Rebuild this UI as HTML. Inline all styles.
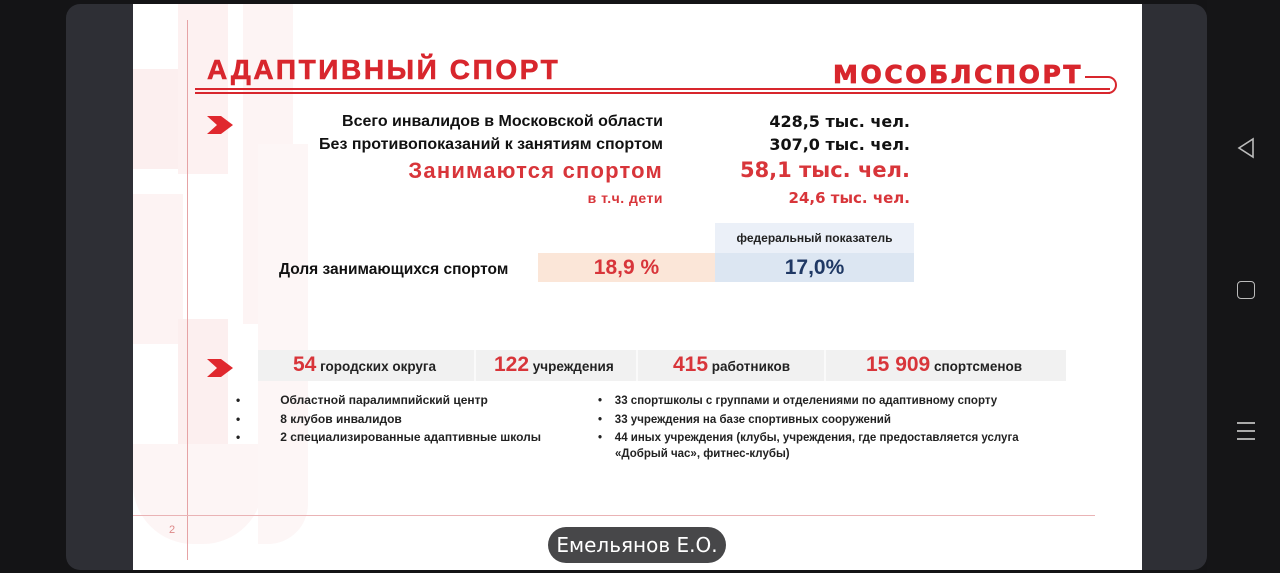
<!DOCTYPE html>
<html><head><meta charset="utf-8"><style>
*{margin:0;padding:0;box-sizing:border-box}
body{width:1280px;height:573px;background:#141416;position:relative;overflow:hidden;font-family:"Liberation Sans",Arial,sans-serif;font-weight:bold}
.a{position:absolute;white-space:nowrap}
.r{text-align:right}
.c{text-align:center}
</style></head><body>
<div class="a" style="left:66px;top:4px;width:1141px;height:566px;background:#2e2f35;border-radius:14px"></div>
<div class="a" style="left:1207px;top:0;width:73px;height:573px;background:#151517"></div>
<div class="a" style="left:133px;top:4px;width:1009px;height:566px;background:#fff;overflow:hidden">
  <div class="a" style="left:0;top:65px;width:50px;height:100px;background:#fcefef"></div>
  <div class="a" style="left:45px;top:0;width:50px;height:170px;background:#fdf1f1"></div>
  <div class="a" style="left:110px;top:0;width:50px;height:320px;background:#fdf4f4"></div>
  <div class="a" style="left:0;top:190px;width:50px;height:150px;background:#fdf3f3"></div>
  <div class="a" style="left:45px;top:315px;width:50px;height:130px;background:#fcefef"></div>
  <div class="a" style="left:0;top:440px;width:130px;height:100px;background:#fdf5f5;border-radius:0 0 60px 60px"></div>
  <div class="a" style="left:125px;top:140px;width:50px;height:400px;background:#fdf6f6;border-radius:0 0 40px 0"></div>
  <div class="a" style="left:54px;top:16px;width:1px;height:540px;background:#e6a3a5"></div>
  <div class="a" style="left:0;top:511px;width:962px;height:1px;background:#eab3b5"></div>
</div>
<div class="a" style="left:207px;top:54px;font-size:28px;color:#d8262d;letter-spacing:2.6px;-webkit-text-stroke:0.6px #d8262d">АДАПТИВНЫЙ СПОРТ</div>
<div class="a" style="left:195px;top:88px;width:915px;height:2px;background:#d8262d"></div>
<div class="a" style="left:195px;top:92px;width:915px;height:2px;background:#d8262d"></div>
<div class="a" style="left:833px;top:60px;font-size:25px;color:#d8262d;letter-spacing:2.6px;font-family:'DejaVu Sans',sans-serif;-webkit-text-stroke:0.8px #d8262d">МОСОБЛСПОРТ</div>
<div class="a" style="left:1085px;top:76px;width:32px;height:18px;border:2px solid #d8262d;border-left:none;border-radius:0 9px 9px 0"></div>
<svg class="a" style="left:207px;top:116px" width="26" height="18"><polygon points="0,0 14,0 26,9 14,18 0,18 10,9" fill="#e0282e"/></svg>
<svg class="a" style="left:207px;top:359px" width="26" height="18"><polygon points="0,0 14,0 26,9 14,18 0,18 10,9" fill="#e0282e"/></svg>
<div class="a r" style="right:617px;top:113px;font-size:16px;color:#111">Всего инвалидов в Московской области</div>
<div class="a r" style="right:617px;top:136px;font-size:16px;color:#111">Без противопоказаний к занятиям спортом</div>
<div class="a r" style="right:617px;top:158px;font-size:22px;color:#d8353a;letter-spacing:1.2px">Занимаются спортом</div>
<div class="a r" style="right:617px;top:190px;font-size:14px;color:#d8353a;letter-spacing:0.5px">в т.ч. дети</div>
<div class="a r" style="right:370px;top:112px;font-size:16px;color:#111;font-family:'DejaVu Sans',sans-serif">428,5 тыс. чел.</div>
<div class="a r" style="right:370px;top:135px;font-size:16px;color:#111;font-family:'DejaVu Sans',sans-serif">307,0 тыс. чел.</div>
<div class="a r" style="right:370px;top:158px;font-size:21px;color:#d8353a;font-family:'DejaVu Sans',sans-serif">58,1 тыс. чел.</div>
<div class="a r" style="right:370px;top:189px;font-size:15px;color:#d8353a;font-family:'DejaVu Sans',sans-serif">24,6 тыс. чел.</div>
<div class="a c" style="left:715px;top:223px;width:199px;height:30px;background:#ebf0f8;font-size:12px;line-height:30px;color:#222">федеральный показатель</div>
<div class="a c" style="left:538px;top:253px;width:177px;height:29px;background:#fbe6d8;font-size:21px;line-height:29px;color:#d8353a">18,9 %</div>
<div class="a c" style="left:715px;top:253px;width:199px;height:29px;background:#dce6f2;font-size:21px;line-height:29px;color:#1f3864">17,0%</div>
<div class="a" style="left:279px;top:261px;font-size:15.5px;color:#111">Доля занимающихся спортом</div>
<div class="a" style="left:258px;top:350px;width:808px;height:31px;background:#f1f1f1"></div>
<div class="a" style="left:474px;top:350px;width:2px;height:31px;background:#fafafa"></div>
<div class="a" style="left:636px;top:350px;width:2px;height:31px;background:#fafafa"></div>
<div class="a" style="left:824px;top:350px;width:2px;height:31px;background:#fafafa"></div>
<div class="a" style="left:293px;top:353px;font-size:13.5px;color:#222"><span style="font-size:21px;color:#d8353a">54</span> городских округа</div>
<div class="a" style="left:494px;top:353px;font-size:13.5px;color:#222"><span style="font-size:21px;color:#d8353a">122</span> учреждения</div>
<div class="a" style="left:673px;top:353px;font-size:13.5px;color:#222"><span style="font-size:21px;color:#d8353a">415</span> работников</div>
<div class="a" style="left:866px;top:353px;font-size:13.5px;color:#222"><span style="font-size:21px;color:#d8353a">15 909</span> спортсменов</div>
<div class="a" style="left:236px;top:391px;font-size:12px;color:#222;line-height:19px">
<div>•<span style="padding-left:40px">Областной паралимпийский центр</span></div>
<div>•<span style="padding-left:40px">8 клубов инвалидов</span></div>
<div style="margin-top:-1px">•<span style="padding-left:40px">2 специализированные адаптивные школы</span></div></div>
<div class="a" style="left:598px;top:392px;font-size:11.5px;color:#222;line-height:18.5px">
<div>•&nbsp;&nbsp;&nbsp;&nbsp;33 спортшколы с группами и отделениями по адаптивному спорту</div>
<div>•&nbsp;&nbsp;&nbsp;&nbsp;33 учреждения на базе спортивных сооружений</div>
<div>•&nbsp;&nbsp;&nbsp;&nbsp;44 иных учреждения (клубы, учреждения, где предоставляется услуга</div>
<div style="line-height:13px;padding-left:17px">«Добрый час», фитнес-клубы)</div></div>
<div class="a" style="left:169px;top:524px;font-size:11px;color:#d88;font-weight:normal">2</div>
<div class="a c" style="left:548px;top:527px;width:178px;height:36px;border-radius:18px;background:#474749;color:#fff;font-size:20px;line-height:36px;font-weight:normal;font-family:'DejaVu Sans',sans-serif">Емельянов Е.О.</div>
<svg class="a" style="left:1236px;top:137px" width="20" height="22"><polygon points="17,2 17,20 3,11" fill="none" stroke="#bbb" stroke-width="1.6"/></svg>
<div class="a" style="left:1237px;top:281px;width:18px;height:18px;border:1.6px solid #bbb;border-radius:4px"></div>
<div class="a" style="left:1237px;top:422px;width:18px;height:2px;background:#aaa;box-shadow:0 8px 0 #aaa,0 16px 0 #aaa"></div>
</body></html>
